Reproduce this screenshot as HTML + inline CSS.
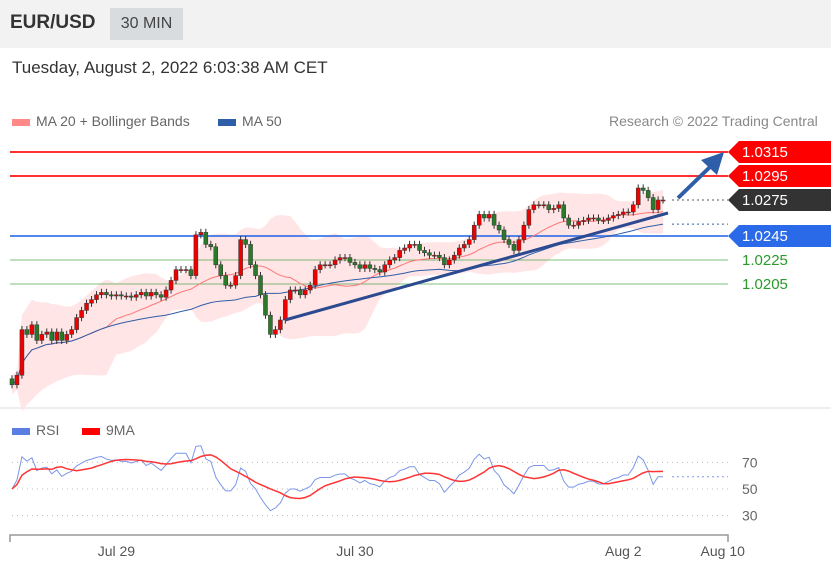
<!DOCTYPE html>
<html><head><meta charset="utf-8"><style>
body{margin:0;width:831px;height:571px;background:#fff;font-family:"Liberation Sans",sans-serif;overflow:hidden;position:relative}
.t{position:absolute;white-space:nowrap}
</style></head><body>
<div style="position:absolute;left:0;top:0;width:831px;height:48px;background:#f2f2f2"></div>
<div class="t" style="left:10px;top:12px;font-size:19px;font-weight:bold;color:#333">EUR/USD</div>
<div class="t" style="left:110px;top:8px;width:73px;height:32px;background:#d9dcdf;color:#444;font-size:16px;line-height:32px;text-align:center">30 MIN</div>
<div class="t" style="left:12px;top:58px;font-size:17px;color:#333">Tuesday, August 2, 2022 6:03:38 AM CET</div>
<div class="t" style="left:12px;top:113px;font-size:14px;color:#666"><span style="display:inline-block;width:18px;height:7px;background:#f88;margin-right:6px"></span>MA 20 + Bollinger Bands</div>
<div class="t" style="left:218px;top:113px;font-size:14px;color:#666"><span style="display:inline-block;width:18px;height:7px;background:#2e5ea8;margin-right:6px"></span>MA 50</div>
<div class="t" style="left:609px;top:113px;font-size:14px;color:#888">Research © 2022 Trading Central</div>
<div style="position:absolute;left:0;top:407px;width:831px;height:2px;background:#eee"></div>
<div class="t" style="left:12px;top:422px;font-size:14px;color:#666"><span style="display:inline-block;width:18px;height:7px;background:#5b7fe0;margin-right:6px"></span>RSI</div>
<div class="t" style="left:82px;top:422px;font-size:14px;color:#666"><span style="display:inline-block;width:18px;height:7px;background:#f00;margin-right:6px"></span>9MA</div>
<svg id="c" width="831" height="571" style="position:absolute;left:0;top:0"></svg>
<script>
const closesPx=[385,375,330,335,325,340,335,332,340,332,340,335,330,318,310,303,300,295,293,295,296,295,296,296,297,295,293,296,293,295,297,290,280,270,270,270,275,235,232,245,247,265,275,285,285,275,240,245,265,275,295,315,335,330,320,300,290,290,295,290,285,270,265,265,265,260,258,258,262,265,268,265,268,270,272,265,260,258,250,248,245,245,250,253,255,255,258,265,260,255,248,245,240,225,215,218,215,225,230,240,245,250,240,225,210,205,205,205,210,208,205,218,225,225,222,220,218,218,220,220,218,216,214,212,212,205,188,190,198,210,200,200];
const closes=closesPx.map(y=>+(1.0315-(y-152)/12000).toFixed(4));
const levels=[1.0315,1.0295,1.0275,1.0245,1.0225,1.0205];
const levelColors=["#f00","#f00","#333","#2a6ae8","#2a9a2a","#2a9a2a"];
const rsiTicks=[70,50,30];
const xLabels=["Jul 29","Jul 30","Aug 2","Aug 10"];
const xLabelIdx=[21,69,123,143];
const S=document.getElementById('c');const NS="http://www.w3.org/2000/svg";
function el(t,a,p){const e=document.createElementNS(NS,t);for(const k in a)e.setAttribute(k,a[k]);(p||S).appendChild(e);return e;}
const X=i=>12+i*4.97, Y=p=>152+(1.0315-p)*12000, R=v=>489-(v-50)*1.33;
function ma(a,n){return a.map((v,i)=>{if(i<n-1)return null;let s=0;for(let j=i-n+1;j<=i;j++)s+=a[j];return s/n;});}
const N=closes.length;
// bollinger
const m20=closes.map((v,i)=>{const s=closes.slice(Math.max(0,i-19),i+1);return s.reduce((a,b)=>a+b)/s.length;});
const sd=closes.map((v,i)=>{const s=closes.slice(Math.max(0,i-19),i+1);const m=m20[i];return Math.sqrt(s.reduce((a,b)=>a+(b-m)**2,0)/s.length)||0.0004;});
let up=[],dn=[];for(let i=0;i<N;i++){up.push(X(i)+','+Y(m20[i]+2*sd[i]));dn.unshift(X(i)+','+Y(m20[i]-2*sd[i]));}
let bb=el('polygon',{points:up.concat(dn).join(' '),fill:'#ffe0e0',opacity:0.85});

// level lines
levels.forEach((lv,k)=>{const y=Y(lv);
 if(k==2){const l=el('line',{x1:672,x2:728,y1:y,y2:y,stroke:'#555','stroke-dasharray':'2,3'});}
 else{const l=el('line',{x1:10,x2:728,y1:y,y2:y,stroke:levelColors[k],'stroke-width':k<2?2:(k==3?2:1),opacity:k>3?0.6:0.8});}
 if(k<4){const g=el('polygon',{points:`728,${y} 739,${y-11} 831,${y-11} 831,${y+11} 739,${y+11}`,fill:levelColors[k]});}
 const t=el('text',{x:742,y:y+5,'font-size':15,fill:k<4?'#fff':levelColors[k],'font-family':'Liberation Sans'});t.textContent=lv.toFixed(4);
 
});
// MA lines
function line(a,c,w,name){let d='';a.forEach((v,i)=>{if(v!=null)d+=(d?'L':'M')+X(i)+','+Y(v);});const p=el('path',{d,fill:'none',stroke:c,'stroke-width':w});}
line(m20,'#f77',1,'ma20-line');
const m50=closes.map((v,i)=>{const s=closes.slice(Math.max(0,i-49),i+1);return s.reduce((a,b)=>a+b)/s.length;});
line(m50,'#2e5ea8',1,'ma50-line');
const dl=el('line',{x1:672,x2:728,y1:Y(m50[N-1]),y2:Y(m50[N-1]),stroke:'#2e5ea8','stroke-dasharray':'2,3'});
// candles
for(let i=0;i<N;i++){const o=i?closes[i-1]:closes[0]+0.0005,c=closes[i];const hi=Math.max(o,c)+0.0003,lo=Math.min(o,c)-0.0003;const x=X(i);
 const w=el('line',{x1:x,x2:x,y1:Y(hi),y2:Y(lo),stroke:'#333','stroke-width':1});
 const b=el('rect',{x:x-2,y:Y(Math.max(o,c)),width:4,height:Math.max(1,Math.abs(Y(o)-Y(c))),fill:c>=o?'#e00':'#2a7a2a',stroke:'#333','stroke-width':0.5});}
// trendline & arrow
const tl=el('line',{x1:285,y1:320,x2:668,y2:213,stroke:'#2c4a90','stroke-width':3});
const ar=el('line',{x1:678,y1:198,x2:712,y2:165,stroke:'#2e5ea8','stroke-width':4});
const ah=el('polygon',{points:'724,152 717,175 701,160',fill:'#2e5ea8'});
// RSI
let rsi=[],ag=0,al=0;for(let i=0;i<N;i++){const d=i?closes[i]-closes[i-1]:0;const g=Math.max(d,0),l=Math.max(-d,0);if(i==0){ag=0.0002;al=0.0002;}else{ag=(ag*13+g)/14;al=(al*13+l)/14;}rsi.push(100-100/(1+ag/al));}
const rma=rsi.map((v,i)=>{const s=rsi.slice(Math.max(0,i-8),i+1);return s.reduce((a,b)=>a+b)/s.length;});
rsiTicks.forEach(v=>{const l=el('line',{x1:12,x2:728,y1:R(v),y2:R(v),stroke:'#bbb','stroke-dasharray':'1,4'});
 const t=el('text',{x:742,y:R(v)+5,'font-size':14,fill:'#666','font-family':'Liberation Sans'});t.textContent=v;});
function rl(a,c,w,n){let d='';a.forEach((v,i)=>{d+=(i?'L':'M')+X(i)+','+R(v);});const p=el('path',{d,fill:'none',stroke:c,'stroke-width':w});}
rl(rsi,'#7b96e8',1,'rsi-line');rl(rma,'#f33',1.5,'rsi-9ma-line');
const rd=el('line',{x1:672,x2:728,y1:R(rsi[N-1]),y2:R(rsi[N-1]),stroke:'#7b96e8','stroke-dasharray':'2,3'});
// x axis
const ax=el('path',{d:'M10,542V535H728V542',fill:'none',stroke:'#999','stroke-width':1.5});
xLabels.forEach((s,k)=>{const t=el('text',{x:X(xLabelIdx[k]),y:556,'font-size':14,fill:'#555','text-anchor':'middle','font-family':'Liberation Sans'});t.textContent=s;});
</script>
</body></html>
